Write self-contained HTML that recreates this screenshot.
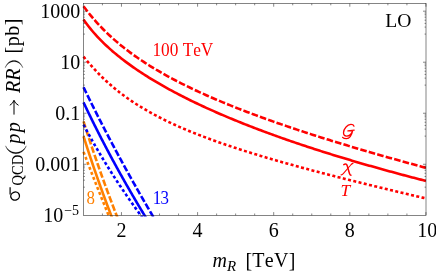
<!DOCTYPE html>
<html><head><meta charset="utf-8"><title>plot</title><style>.ls{font-family:"Liberation Serif",serif;font-kerning:none}html,body{margin:0;padding:0;background:#fff;overflow:hidden}body{width:436px;height:273px;position:relative;font-family:"Liberation Serif",serif}</style></head><body>
<svg width="436" height="273" viewBox="0 0 436 273" style="position:absolute;left:0;top:0;will-change:transform">
<rect width="436" height="273" fill="#fff"/>
<clipPath id="c"><rect x="82.0" y="3.5" width="344.3" height="213.10000000000002"/></clipPath><g clip-path="url(#c)" fill="none" stroke-width="2.6">
<path d="M83.52,121.38 L83.86,122.46 L84.20,123.54 L84.55,124.61 L84.89,125.69 L85.23,126.77 L85.58,127.84 L85.92,128.92 L86.27,130.00 L86.62,131.08 L86.96,132.15 L87.31,133.23 L87.66,134.31 L88.01,135.38 L88.36,136.46 L88.72,137.54 L89.07,138.61 L89.42,139.69 L89.78,140.77 L90.14,141.85 L90.49,142.92 L90.85,144.00 L91.21,145.08 L91.57,146.15 L91.93,147.23 L92.29,148.31 L92.65,149.39 L93.02,150.46 L93.38,151.54 L93.75,152.62 L94.11,153.69 L94.48,154.77 L94.85,155.85 L95.22,156.92 L95.58,158.00 L95.96,159.08 L96.33,160.16 L96.70,161.23 L97.07,162.31 L97.45,163.39 L97.82,164.46 L98.20,165.54 L98.57,166.62 L98.95,167.69 L99.33,168.77 L99.71,169.85 L100.09,170.93 L100.47,172.00 L100.85,173.08 L101.23,174.16 L101.62,175.23 L102.00,176.31 L102.39,177.39 L102.78,178.47 L103.16,179.54 L103.55,180.62 L103.94,181.70 L104.33,182.77 L104.72,183.85 L105.11,184.93 L105.51,186.00 L105.90,187.08 L106.29,188.16 L106.69,189.24 L107.09,190.31 L107.48,191.39 L107.88,192.47 L108.28,193.54 L108.68,194.62 L109.08,195.70 L109.48,196.77 L109.89,197.85 L110.29,198.93 L110.69,200.01 L111.10,201.08 L111.50,202.16 L111.91,203.24 L112.32,204.31 L112.73,205.39 L113.14,206.47 L113.55,207.55 L113.96,208.62 L114.37,209.70 L114.79,210.78 L115.20,211.85 L115.62,212.93 L116.03,214.01 L116.45,215.08 L117.70,218.30" stroke="#ff8000" stroke-dasharray="6.6 2.2"/>
<path d="M83.51,136.25 L83.85,137.32 L84.19,138.40 L84.53,139.48 L84.87,140.55 L85.22,141.63 L85.56,142.71 L85.91,143.78 L86.26,144.86 L86.60,145.94 L86.95,147.02 L87.30,148.09 L87.65,149.17 L88.01,150.25 L88.36,151.32 L88.71,152.40 L89.07,153.48 L89.42,154.56 L89.78,155.63 L90.14,156.71 L90.50,157.79 L90.86,158.86 L91.22,159.94 L91.58,161.02 L91.94,162.09 L92.31,163.17 L92.67,164.25 L93.04,165.33 L93.41,166.40 L93.78,167.48 L94.14,168.56 L94.51,169.63 L94.89,170.71 L95.26,171.79 L95.63,172.86 L96.01,173.94 L96.38,175.02 L96.76,176.10 L97.13,177.17 L97.51,178.25 L97.89,179.33 L98.27,180.40 L98.65,181.48 L99.04,182.56 L99.42,183.64 L99.80,184.71 L100.19,185.79 L100.57,186.87 L100.96,187.94 L101.35,189.02 L101.74,190.10 L102.13,191.17 L102.52,192.25 L102.91,193.33 L103.31,194.41 L103.70,195.48 L104.10,196.56 L104.49,197.64 L104.89,198.71 L105.29,199.79 L105.69,200.87 L106.09,201.94 L106.49,203.02 L106.89,204.10 L107.29,205.18 L107.70,206.25 L108.10,207.33 L108.51,208.41 L108.92,209.48 L109.33,210.56 L109.74,211.64 L110.15,212.72 L110.56,213.79 L110.97,214.87 L112.29,218.30" stroke="#ff8000"/>
<path d="M83.52,151.86 L83.93,152.94 L84.34,154.02 L84.75,155.09 L85.16,156.17 L85.58,157.25 L85.99,158.32 L86.40,159.40 L86.82,160.48 L87.23,161.56 L87.65,162.63 L88.06,163.71 L88.48,164.79 L88.90,165.86 L89.32,166.94 L89.73,168.02 L90.15,169.10 L90.57,170.17 L90.99,171.25 L91.41,172.33 L91.83,173.40 L92.25,174.48 L92.68,175.56 L93.10,176.63 L93.52,177.71 L93.94,178.79 L94.37,179.87 L94.79,180.94 L95.22,182.02 L95.64,183.10 L96.07,184.17 L96.49,185.25 L96.92,186.33 L97.35,187.40 L97.78,188.48 L98.21,189.56 L98.64,190.64 L99.06,191.71 L99.50,192.79 L99.93,193.87 L100.36,194.94 L100.79,196.02 L101.22,197.10 L101.65,198.18 L102.09,199.25 L102.52,200.33 L102.96,201.41 L103.39,202.48 L103.83,203.56 L104.26,204.64 L104.70,205.71 L105.14,206.79 L105.57,207.87 L106.01,208.95 L106.45,210.02 L106.89,211.10 L107.33,212.18 L107.77,213.25 L108.21,214.33 L109.84,218.30 L109.84,218.30" stroke="#ff8000" stroke-dasharray="3.0 2.4"/>
<path d="M83.53,87.24 L84.05,88.32 L84.57,89.39 L85.09,90.47 L85.62,91.55 L86.14,92.63 L86.67,93.70 L87.20,94.78 L87.73,95.86 L88.26,96.93 L88.79,98.01 L89.32,99.09 L89.85,100.16 L90.38,101.24 L90.92,102.32 L91.45,103.40 L91.99,104.47 L92.52,105.55 L93.06,106.63 L93.60,107.70 L94.14,108.78 L94.68,109.86 L95.22,110.93 L95.77,112.01 L96.31,113.09 L96.85,114.17 L97.40,115.24 L97.95,116.32 L98.49,117.40 L99.04,118.47 L99.59,119.55 L100.14,120.63 L100.70,121.71 L101.25,122.78 L101.80,123.86 L102.36,124.94 L102.91,126.01 L103.47,127.09 L104.03,128.17 L104.58,129.24 L105.14,130.32 L105.70,131.40 L106.27,132.48 L106.83,133.55 L107.39,134.63 L107.96,135.71 L108.52,136.78 L109.09,137.86 L109.65,138.94 L110.22,140.02 L110.79,141.09 L111.36,142.17 L111.93,143.25 L112.50,144.32 L113.08,145.40 L113.65,146.48 L114.23,147.55 L114.80,148.63 L115.38,149.71 L115.96,150.79 L116.54,151.86 L117.12,152.94 L117.70,154.02 L118.28,155.09 L118.86,156.17 L119.45,157.25 L120.03,158.32 L120.62,159.40 L121.20,160.48 L121.79,161.56 L122.38,162.63 L122.97,163.71 L123.56,164.79 L124.15,165.86 L124.74,166.94 L125.34,168.02 L125.93,169.10 L126.53,170.17 L127.12,171.25 L127.72,172.33 L128.32,173.40 L128.92,174.48 L129.52,175.56 L130.12,176.63 L130.72,177.71 L131.33,178.79 L131.93,179.87 L132.54,180.94 L133.14,182.02 L133.75,183.10 L134.36,184.17 L134.97,185.25 L135.58,186.33 L136.19,187.40 L136.80,188.48 L137.41,189.56 L138.03,190.64 L138.64,191.71 L139.26,192.79 L139.88,193.87 L140.49,194.94 L141.11,196.02 L141.73,197.10 L142.35,198.18 L142.97,199.25 L143.60,200.33 L144.22,201.41 L144.85,202.48 L145.47,203.56 L146.10,204.64 L146.73,205.71 L147.36,206.79 L147.98,207.87 L148.62,208.95 L149.25,210.02 L149.88,211.10 L150.51,212.18 L151.15,213.25 L151.78,214.33 L154.13,218.30 L154.13,218.30" stroke="#0000ff" stroke-dasharray="6.6 2.2"/>
<path d="M83.52,102.43 L84.03,103.50 L84.54,104.58 L85.06,105.66 L85.57,106.73 L86.09,107.81 L86.60,108.89 L87.12,109.97 L87.64,111.04 L88.16,112.12 L88.68,113.20 L89.21,114.27 L89.73,115.35 L90.26,116.43 L90.79,117.50 L91.31,118.58 L91.84,119.66 L92.38,120.74 L92.91,121.81 L93.44,122.89 L93.98,123.97 L94.52,125.04 L95.06,126.12 L95.60,127.20 L96.14,128.28 L96.68,129.35 L97.23,130.43 L97.77,131.51 L98.32,132.58 L98.87,133.66 L99.42,134.74 L99.97,135.81 L100.52,136.89 L101.07,137.97 L101.63,139.05 L102.19,140.12 L102.75,141.20 L103.30,142.28 L103.87,143.35 L104.43,144.43 L104.99,145.51 L105.56,146.58 L106.12,147.66 L106.69,148.74 L107.26,149.82 L107.83,150.89 L108.40,151.97 L108.98,153.05 L109.55,154.12 L110.13,155.20 L110.71,156.28 L111.28,157.36 L111.86,158.43 L112.45,159.51 L113.03,160.59 L113.61,161.66 L114.20,162.74 L114.79,163.82 L115.38,164.89 L115.97,165.97 L116.56,167.05 L117.15,168.13 L117.74,169.20 L118.34,170.28 L118.94,171.36 L119.54,172.43 L120.14,173.51 L120.74,174.59 L121.34,175.66 L121.94,176.74 L122.55,177.82 L123.16,178.90 L123.76,179.97 L124.37,181.05 L124.98,182.13 L125.60,183.20 L126.21,184.28 L126.82,185.36 L127.44,186.44 L128.06,187.51 L128.68,188.59 L129.30,189.67 L129.92,190.74 L130.54,191.82 L131.17,192.90 L131.79,193.97 L132.42,195.05 L133.05,196.13 L133.68,197.21 L134.31,198.28 L134.95,199.36 L135.58,200.44 L136.22,201.51 L136.85,202.59 L137.49,203.67 L138.13,204.75 L138.77,205.82 L139.42,206.90 L140.06,207.98 L140.71,209.05 L141.35,210.13 L142.00,211.21 L142.65,212.28 L143.30,213.36 L143.95,214.44 L146.30,218.30" stroke="#0000ff"/>
<path d="M83.52,124.61 L84.08,125.69 L84.66,126.77 L85.23,127.84 L85.81,128.92 L86.38,130.00 L86.97,131.08 L87.55,132.15 L88.14,133.23 L88.73,134.31 L89.32,135.38 L89.91,136.46 L90.51,137.54 L91.11,138.61 L91.72,139.69 L92.32,140.77 L92.93,141.85 L93.54,142.92 L94.15,144.00 L94.77,145.08 L95.39,146.15 L96.01,147.23 L96.64,148.31 L97.26,149.39 L97.89,150.46 L98.52,151.54 L99.16,152.62 L99.80,153.69 L100.44,154.77 L101.08,155.85 L101.73,156.92 L102.38,158.00 L103.03,159.08 L103.68,160.16 L104.34,161.23 L105.00,162.31 L105.66,163.39 L106.32,164.46 L106.99,165.54 L107.66,166.62 L108.33,167.69 L109.01,168.77 L109.68,169.85 L110.37,170.93 L111.05,172.00 L111.73,173.08 L112.42,174.16 L113.11,175.23 L113.81,176.31 L114.50,177.39 L115.20,178.47 L115.91,179.54 L116.61,180.62 L117.32,181.70 L118.03,182.77 L118.74,183.85 L119.46,184.93 L120.17,186.00 L120.89,187.08 L121.62,188.16 L122.34,189.24 L123.07,190.31 L123.80,191.39 L124.54,192.47 L125.27,193.54 L126.01,194.62 L126.76,195.70 L127.50,196.77 L128.25,197.85 L129.00,198.93 L129.75,200.01 L130.51,201.08 L131.26,202.16 L132.02,203.24 L132.79,204.31 L133.55,205.39 L134.32,206.47 L135.09,207.55 L135.87,208.62 L136.65,209.70 L137.43,210.78 L138.21,211.85 L138.99,212.93 L139.78,214.01 L140.57,215.08 L142.94,218.30" stroke="#0000ff" stroke-dasharray="3.0 2.4"/>
<path d="M83.50,6.26 L85.22,8.55 L86.94,10.79 L88.66,12.96 L90.38,15.08 L92.11,17.14 L93.83,19.15 L95.55,21.11 L97.27,23.03 L98.99,24.89 L100.71,26.71 L102.43,28.49 L104.15,30.23 L105.87,31.92 L107.60,33.58 L109.32,35.21 L111.04,36.80 L112.76,38.35 L114.48,39.88 L116.20,41.37 L117.92,42.83 L119.64,44.27 L121.36,45.68 L123.09,47.06 L124.81,48.42 L126.53,49.75 L128.25,51.06 L129.97,52.35 L131.69,53.61 L133.41,54.86 L135.13,56.08 L136.85,57.29 L138.58,58.47 L140.30,59.64 L142.02,60.79 L143.74,61.93 L145.46,63.05 L147.18,64.15 L148.90,65.24 L150.62,66.31 L152.34,67.37 L154.07,68.41 L155.79,69.44 L157.51,70.46 L159.23,71.47 L160.95,72.46 L162.67,73.44 L164.39,74.41 L166.11,75.37 L167.83,76.32 L169.56,77.26 L171.28,78.18 L173.00,79.10 L174.72,80.01 L176.44,80.91 L178.16,81.80 L179.88,82.68 L181.60,83.55 L183.32,84.41 L185.05,85.27 L186.77,86.11 L188.49,86.95 L190.21,87.78 L191.93,88.61 L193.65,89.42 L195.37,90.23 L197.09,91.04 L198.81,91.83 L200.54,92.62 L202.26,93.41 L203.98,94.18 L205.70,94.95 L207.42,95.72 L209.14,96.48 L210.86,97.23 L212.58,97.98 L214.30,98.72 L216.03,99.46 L217.75,100.19 L219.47,100.91 L221.19,101.63 L222.91,102.35 L224.63,103.06 L226.35,103.77 L228.07,104.47 L229.79,105.17 L231.52,105.86 L233.24,106.55 L234.96,107.24 L236.68,107.92 L238.40,108.59 L240.12,109.27 L241.84,109.93 L243.56,110.60 L245.28,111.26 L247.01,111.92 L248.73,112.57 L250.45,113.22 L252.17,113.87 L253.89,114.51 L255.61,115.15 L257.33,115.78 L259.05,116.42 L260.77,117.05 L262.49,117.67 L264.22,118.30 L265.94,118.92 L267.66,119.53 L269.38,120.15 L271.10,120.76 L272.82,121.37 L274.54,121.97 L276.26,122.58 L277.98,123.18 L279.71,123.77 L281.43,124.37 L283.15,124.96 L284.87,125.55 L286.59,126.14 L288.31,126.72 L290.03,127.31 L291.75,127.89 L293.47,128.46 L295.20,129.04 L296.92,129.61 L298.64,130.18 L300.36,130.75 L302.08,131.32 L303.80,131.88 L305.52,132.44 L307.24,133.00 L308.96,133.56 L310.69,134.12 L312.41,134.67 L314.13,135.22 L315.85,135.77 L317.57,136.32 L319.29,136.87 L321.01,137.41 L322.73,137.95 L324.45,138.49 L326.18,139.03 L327.90,139.57 L329.62,140.10 L331.34,140.64 L333.06,141.17 L334.78,141.70 L336.50,142.23 L338.22,142.75 L339.94,143.28 L341.67,143.80 L343.39,144.33 L345.11,144.85 L346.83,145.36 L348.55,145.88 L350.27,146.40 L351.99,146.91 L353.71,147.43 L355.43,147.94 L357.16,148.45 L358.88,148.96 L360.60,149.46 L362.32,149.97 L364.04,150.47 L365.76,150.98 L367.48,151.48 L369.20,151.98 L370.92,152.48 L372.65,152.97 L374.37,153.47 L376.09,153.97 L377.81,154.46 L379.53,154.95 L381.25,155.45 L382.97,155.94 L384.69,156.42 L386.41,156.91 L388.14,157.40 L389.86,157.89 L391.58,158.37 L393.30,158.85 L395.02,159.34 L396.74,159.82 L398.46,160.30 L400.18,160.78 L401.90,161.25 L403.63,161.73 L405.35,162.21 L407.07,162.68 L408.79,163.15 L410.51,163.63 L412.23,164.10 L413.95,164.57 L415.67,165.04 L417.39,165.51 L419.12,165.98 L420.84,166.44 L422.56,166.91 L424.28,167.37 L426.00,167.84" stroke="#ff0000" stroke-dasharray="6.6 2.2"/>
<path d="M83.50,19.46 L85.22,21.90 L86.94,24.24 L88.66,26.48 L90.38,28.64 L92.11,30.72 L93.83,32.73 L95.55,34.67 L97.27,36.55 L98.99,38.38 L100.71,40.15 L102.43,41.88 L104.15,43.57 L105.87,45.21 L107.60,46.81 L109.32,48.37 L111.04,49.90 L112.76,51.40 L114.48,52.87 L116.20,54.30 L117.92,55.71 L119.64,57.10 L121.36,58.46 L123.09,59.79 L124.81,61.10 L126.53,62.39 L128.25,63.66 L129.97,64.91 L131.69,66.14 L133.41,67.35 L135.13,68.55 L136.85,69.72 L138.58,70.88 L140.30,72.03 L142.02,73.16 L143.74,74.27 L145.46,75.38 L147.18,76.46 L148.90,77.54 L150.62,78.60 L152.34,79.65 L154.07,80.69 L155.79,81.71 L157.51,82.73 L159.23,83.73 L160.95,84.72 L162.67,85.71 L164.39,86.68 L166.11,87.64 L167.83,88.59 L169.56,89.54 L171.28,90.47 L173.00,91.40 L174.72,92.32 L176.44,93.22 L178.16,94.12 L179.88,95.02 L181.60,95.90 L183.32,96.78 L185.05,97.65 L186.77,98.51 L188.49,99.37 L190.21,100.22 L191.93,101.06 L193.65,101.89 L195.37,102.72 L197.09,103.54 L198.81,104.36 L200.54,105.17 L202.26,105.97 L203.98,106.77 L205.70,107.56 L207.42,108.34 L209.14,109.12 L210.86,109.90 L212.58,110.67 L214.30,111.43 L216.03,112.19 L217.75,112.94 L219.47,113.69 L221.19,114.44 L222.91,115.17 L224.63,115.91 L226.35,116.64 L228.07,117.36 L229.79,118.08 L231.52,118.80 L233.24,119.51 L234.96,120.21 L236.68,120.92 L238.40,121.61 L240.12,122.31 L241.84,123.00 L243.56,123.68 L245.28,124.37 L247.01,125.04 L248.73,125.72 L250.45,126.39 L252.17,127.05 L253.89,127.72 L255.61,128.38 L257.33,129.03 L259.05,129.68 L260.77,130.33 L262.49,130.98 L264.22,131.62 L265.94,132.26 L267.66,132.89 L269.38,133.52 L271.10,134.15 L272.82,134.78 L274.54,135.40 L276.26,136.02 L277.98,136.63 L279.71,137.25 L281.43,137.86 L283.15,138.46 L284.87,139.07 L286.59,139.67 L288.31,140.26 L290.03,140.86 L291.75,141.45 L293.47,142.04 L295.20,142.63 L296.92,143.21 L298.64,143.79 L300.36,144.37 L302.08,144.95 L303.80,145.52 L305.52,146.09 L307.24,146.66 L308.96,147.23 L310.69,147.79 L312.41,148.35 L314.13,148.91 L315.85,149.47 L317.57,150.02 L319.29,150.57 L321.01,151.12 L322.73,151.67 L324.45,152.21 L326.18,152.75 L327.90,153.29 L329.62,153.83 L331.34,154.37 L333.06,154.90 L334.78,155.43 L336.50,155.96 L338.22,156.49 L339.94,157.01 L341.67,157.54 L343.39,158.06 L345.11,158.58 L346.83,159.09 L348.55,159.61 L350.27,160.12 L351.99,160.63 L353.71,161.14 L355.43,161.65 L357.16,162.15 L358.88,162.65 L360.60,163.16 L362.32,163.66 L364.04,164.15 L365.76,164.65 L367.48,165.14 L369.20,165.63 L370.92,166.12 L372.65,166.61 L374.37,167.10 L376.09,167.59 L377.81,168.07 L379.53,168.55 L381.25,169.03 L382.97,169.51 L384.69,169.98 L386.41,170.46 L388.14,170.93 L389.86,171.40 L391.58,171.87 L393.30,172.34 L395.02,172.81 L396.74,173.28 L398.46,173.74 L400.18,174.20 L401.90,174.66 L403.63,175.12 L405.35,175.58 L407.07,176.03 L408.79,176.49 L410.51,176.94 L412.23,177.39 L413.95,177.84 L415.67,178.29 L417.39,178.74 L419.12,179.19 L420.84,179.63 L422.56,180.07 L424.28,180.52 L426.00,180.96" stroke="#ff0000"/>
<path d="M83.50,56.66 L85.22,58.73 L86.94,60.78 L88.66,62.79 L90.38,64.76 L92.11,66.70 L93.83,68.59 L95.55,70.45 L97.27,72.26 L98.99,74.03 L100.71,75.76 L102.43,77.46 L104.15,79.11 L105.87,80.73 L107.60,82.30 L109.32,83.85 L111.04,85.35 L112.76,86.83 L114.48,88.27 L116.20,89.68 L117.92,91.06 L119.64,92.41 L121.36,93.73 L123.09,95.03 L124.81,96.29 L126.53,97.53 L128.25,98.75 L129.97,99.95 L131.69,101.12 L133.41,102.26 L135.13,103.39 L136.85,104.50 L138.58,105.58 L140.30,106.65 L142.02,107.70 L143.74,108.72 L145.46,109.74 L147.18,110.73 L148.90,111.71 L150.62,112.67 L152.34,113.62 L154.07,114.56 L155.79,115.47 L157.51,116.38 L159.23,117.27 L160.95,118.15 L162.67,119.02 L164.39,119.87 L166.11,120.71 L167.83,121.54 L169.56,122.36 L171.28,123.17 L173.00,123.97 L174.72,124.76 L176.44,125.54 L178.16,126.31 L179.88,127.07 L181.60,127.82 L183.32,128.57 L185.05,129.30 L186.77,130.03 L188.49,130.74 L190.21,131.45 L191.93,132.16 L193.65,132.85 L195.37,133.54 L197.09,134.22 L198.81,134.90 L200.54,135.57 L202.26,136.23 L203.98,136.88 L205.70,137.53 L207.42,138.18 L209.14,138.82 L210.86,139.45 L212.58,140.08 L214.30,140.70 L216.03,141.31 L217.75,141.93 L219.47,142.53 L221.19,143.14 L222.91,143.73 L224.63,144.33 L226.35,144.91 L228.07,145.50 L229.79,146.08 L231.52,146.65 L233.24,147.23 L234.96,147.79 L236.68,148.36 L238.40,148.92 L240.12,149.48 L241.84,150.03 L243.56,150.58 L245.28,151.13 L247.01,151.67 L248.73,152.21 L250.45,152.74 L252.17,153.28 L253.89,153.81 L255.61,154.34 L257.33,154.86 L259.05,155.38 L260.77,155.90 L262.49,156.42 L264.22,156.93 L265.94,157.44 L267.66,157.95 L269.38,158.46 L271.10,158.96 L272.82,159.46 L274.54,159.96 L276.26,160.46 L277.98,160.95 L279.71,161.45 L281.43,161.94 L283.15,162.42 L284.87,162.91 L286.59,163.39 L288.31,163.88 L290.03,164.36 L291.75,164.84 L293.47,165.31 L295.20,165.79 L296.92,166.26 L298.64,166.73 L300.36,167.20 L302.08,167.67 L303.80,168.13 L305.52,168.60 L307.24,169.06 L308.96,169.52 L310.69,169.98 L312.41,170.44 L314.13,170.90 L315.85,171.35 L317.57,171.81 L319.29,172.26 L321.01,172.71 L322.73,173.16 L324.45,173.61 L326.18,174.06 L327.90,174.51 L329.62,174.95 L331.34,175.39 L333.06,175.84 L334.78,176.28 L336.50,176.72 L338.22,177.16 L339.94,177.60 L341.67,178.03 L343.39,178.47 L345.11,178.91 L346.83,179.34 L348.55,179.77 L350.27,180.20 L351.99,180.64 L353.71,181.07 L355.43,181.49 L357.16,181.92 L358.88,182.35 L360.60,182.78 L362.32,183.20 L364.04,183.63 L365.76,184.05 L367.48,184.47 L369.20,184.90 L370.92,185.32 L372.65,185.74 L374.37,186.16 L376.09,186.58 L377.81,187.00 L379.53,187.41 L381.25,187.83 L382.97,188.25 L384.69,188.66 L386.41,189.08 L388.14,189.49 L389.86,189.90 L391.58,190.32 L393.30,190.73 L395.02,191.14 L396.74,191.55 L398.46,191.96 L400.18,192.37 L401.90,192.78 L403.63,193.19 L405.35,193.60 L407.07,194.00 L408.79,194.41 L410.51,194.82 L412.23,195.22 L413.95,195.63 L415.67,196.03 L417.39,196.44 L419.12,196.84 L420.84,197.24 L422.56,197.64 L424.28,198.05 L426.00,198.45" stroke="#ff0000" stroke-dasharray="3.0 2.4"/>
</g>
<g stroke="#222" stroke-width="0.55" fill="none">
<rect x="83.5" y="3.5" width="342.5" height="211.8"/>
<path d="M102.43,215.3 v-1.8 M102.43,3.5 v1.8 M121.46,215.3 v-3.2 M121.46,3.5 v3.2 M140.49,215.3 v-1.8 M140.49,3.5 v1.8 M159.52,215.3 v-1.8 M159.52,3.5 v1.8 M178.55,215.3 v-1.8 M178.55,3.5 v1.8 M197.58,215.3 v-3.2 M197.58,3.5 v3.2 M216.61,215.3 v-1.8 M216.61,3.5 v1.8 M235.64,215.3 v-1.8 M235.64,3.5 v1.8 M254.67,215.3 v-1.8 M254.67,3.5 v1.8 M273.70,215.3 v-3.2 M273.70,3.5 v3.2 M292.73,215.3 v-1.8 M292.73,3.5 v1.8 M311.76,215.3 v-1.8 M311.76,3.5 v1.8 M330.79,215.3 v-1.8 M330.79,3.5 v1.8 M349.82,215.3 v-3.2 M349.82,3.5 v3.2 M368.85,215.3 v-1.8 M368.85,3.5 v1.8 M387.88,215.3 v-1.8 M387.88,3.5 v1.8 M406.91,215.3 v-1.8 M406.91,3.5 v1.8 M425.94,215.3 v-3.2 M425.94,3.5 v3.2 M83.5,11.18 h3 M426.0,11.18 h-3 M83.5,12.98 h1.4 M426.0,12.98 h-1.4 M83.5,14.78 h1.4 M426.0,14.78 h-1.4 M83.5,17.18 h1.4 M426.0,17.18 h-1.4 M83.5,20.18 h1.4 M426.0,20.18 h-1.4 M83.5,23.38 h1.4 M426.0,23.38 h-1.4 M83.5,27.08 h1.4 M426.0,27.08 h-1.4 M83.5,34.08 h1.4 M426.0,34.08 h-1.4 M83.5,62.21 h3 M426.0,62.21 h-3 M83.5,64.01 h1.4 M426.0,64.01 h-1.4 M83.5,65.81 h1.4 M426.0,65.81 h-1.4 M83.5,68.21 h1.4 M426.0,68.21 h-1.4 M83.5,71.21 h1.4 M426.0,71.21 h-1.4 M83.5,74.41 h1.4 M426.0,74.41 h-1.4 M83.5,78.11 h1.4 M426.0,78.11 h-1.4 M83.5,85.11 h1.4 M426.0,85.11 h-1.4 M83.5,113.24 h3 M426.0,113.24 h-3 M83.5,115.04 h1.4 M426.0,115.04 h-1.4 M83.5,116.84 h1.4 M426.0,116.84 h-1.4 M83.5,119.24 h1.4 M426.0,119.24 h-1.4 M83.5,122.24 h1.4 M426.0,122.24 h-1.4 M83.5,125.44 h1.4 M426.0,125.44 h-1.4 M83.5,129.14 h1.4 M426.0,129.14 h-1.4 M83.5,136.14 h1.4 M426.0,136.14 h-1.4 M83.5,164.27 h3 M426.0,164.27 h-3 M83.5,166.07 h1.4 M426.0,166.07 h-1.4 M83.5,167.87 h1.4 M426.0,167.87 h-1.4 M83.5,170.27 h1.4 M426.0,170.27 h-1.4 M83.5,173.27 h1.4 M426.0,173.27 h-1.4 M83.5,176.47 h1.4 M426.0,176.47 h-1.4 M83.5,180.17 h1.4 M426.0,180.17 h-1.4 M83.5,187.17 h1.4 M426.0,187.17 h-1.4"/>
</g>
<g class="ls" font-size="20" fill="#000">
<text x="80.3" y="17.98" text-anchor="end">1000</text>
<text x="80.3" y="69.01" text-anchor="end">10</text>
<text x="80.3" y="120.04" text-anchor="end">0.1</text>
<text x="80.3" y="171.07" text-anchor="end">0.001</text>
<text x="63.2" y="222.4" text-anchor="end">10</text><text x="64.2" y="215.3" font-size="14">−5</text>
<text x="121.46" y="236.8" text-anchor="middle">2</text>
<text x="197.58" y="236.8" text-anchor="middle">4</text>
<text x="273.70" y="236.8" text-anchor="middle">6</text>
<text x="349.82" y="236.8" text-anchor="middle">8</text>
<text x="427.14" y="236.8" text-anchor="middle">10</text>
</g>
<g class="ls" font-size="20" fill="#000">
<text x="212.5" y="267"><tspan font-style="italic">m</tspan><tspan font-style="italic" font-size="15" dy="3.5">R</tspan></text>
<text x="245.4" y="267" letter-spacing="0.3">[TeV]</text>
<g transform="translate(20,0) rotate(-90)">
<text transform="translate(-185.5,3.4) scale(1,1.13)" font-size="14.5" letter-spacing="0.1">QCD</text>
<text x="-143.8" y="0" font-style="italic" letter-spacing="1.5">pp</text>
<text x="-93" y="0" font-style="italic">RR</text>
<text x="-53.4" y="-1" letter-spacing="0.5">[pb]</text>
</g>
<path d="M5.5,145.8 C9,156.3 22.8,156.3 26.3,145.8 C21.8,154.7 10,154.7 5.5,145.8 Z M5.2,67.8 C8.2,57.9 19.8,57.9 22.8,67.8 C19,59.5 9,59.5 5.2,67.8 Z" fill="#000" stroke="#000" stroke-width="0.25"/>
<path d="M10.1,187.2 V194.5" fill="none" stroke="#000" stroke-width="1.2"/><ellipse cx="15.1" cy="196.1" rx="4.4" ry="4.0" transform="rotate(-20 15.1 196.1)" fill="none" stroke="#000" stroke-width="1.35"/>
<path d="M14,114.6 V100.6 M9.8,105.3 Q13,103.5 14,100.3 Q15,103.5 18.5,105.3" fill="none" stroke="#000" stroke-width="1"/>
</g>
<g class="ls" font-size="18" fill="#ff0000">
<text transform="translate(152.4,56) scale(0.935,1)" font-size="18.5">100 TeV</text>
<text x="340.5" y="196.1" font-style="italic" font-size="17.5">T</text>
<path d="M354,126.2 C353.2,123.8 349,123.4 346,127 C342.5,131 342.6,136 346.5,136.2 C350,136.3 352,133 352.8,130.3 M347.9,130.9 L354.2,130.1 M352.8,130.3 C352,134 350.5,138.5 346.5,138.6 C344.5,138.6 343.2,138 342.6,137.3" fill="none" stroke="#ff0000" stroke-width="1.25" stroke-linecap="round"/>
<path d="M343.8,164.6 C345.8,163.3 346.8,164.3 347.3,166 L349.4,173.3 C349.8,174.8 350.2,175.3 351,175.2" fill="none" stroke="#ff0000" stroke-width="1.5" stroke-linecap="round"/>
<path d="M353,163.4 C351.8,163.6 351.3,164.3 350.3,165.5 L343.5,173.3 C342.6,174.4 341.8,175 341,174.8" fill="none" stroke="#ff0000" stroke-width="1.1" stroke-linecap="round"/>
</g>
<g class="ls" font-size="18">
<text transform="translate(86.4,204.2) scale(0.95,1)" fill="#ff8000" font-size="17.8">8</text>
<text transform="translate(152.8,204.2) scale(0.95,1)" fill="#0000ff" font-size="17.8" letter-spacing="-0.9">13</text>
<text x="385.3" y="27.1" fill="#000" font-size="19.6">LO</text>
</g>
</svg>
</body></html>
